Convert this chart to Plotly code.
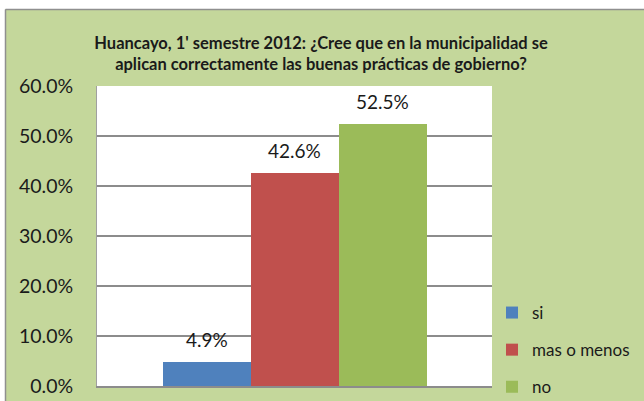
import plotly.graph_objects as go

# Survey answers (share of respondents)
respuestas = ["si", "mas o menos", "no"]
porcentajes = [0.049, 0.426, 0.525]
colores = ["#4F81BD", "#C0504D", "#9BBB59"]
y_ticks = [0.0, 0.1, 0.2, 0.3, 0.4, 0.5, 0.6]

W, H = 644, 401
L, R, T, B = 97, 152, 86, 15
FONT = "Lato, 'Open Sans', Arial, sans-serif"

fig = go.Figure()

for name, val, col in zip(respuestas, porcentajes, colores):
    fig.add_trace(
        go.Bar(
            x=[name],
            y=[val],
            name=name,
            legendgroup=name,
            marker=dict(color=col, line=dict(width=0)),
        )
    )
    fig.add_annotation(
        x=name, y=val, text=f"{val * 100:.1f}%", showarrow=False,
        yanchor="bottom", yshift=9,
        font=dict(size=19, color="#1a1a1a", family=FONT),
    )

# panel frame: white strips at top/left with grey border like the Excel chart area
pw, ph = W - L - R, H - T - B


def px_x(p):
    return (p - L) / pw


def px_y(p):
    return (H - B - p) / ph


shapes = [
    dict(type="rect", xref="paper", yref="paper", x0=px_x(-5), x1=px_x(W + 5),
         y0=px_y(9), y1=px_y(-5), fillcolor="white", line=dict(width=0), layer="below"),
    dict(type="rect", xref="paper", yref="paper", x0=px_x(-5), x1=px_x(5),
         y0=px_y(H + 5), y1=px_y(-5), fillcolor="white", line=dict(width=0), layer="below"),
    dict(type="line", xref="paper", yref="paper", x0=px_x(5.5), x1=px_x(W + 5),
         y0=px_y(9.5), y1=px_y(9.5), line=dict(color="#8f8f8f", width=1.5), layer="below"),
    dict(type="line", xref="paper", yref="paper", x0=px_x(5.5), x1=px_x(5.5),
         y0=px_y(9.5), y1=px_y(H + 5), line=dict(color="#8f8f8f", width=1.5), layer="below"),
]

# bars are 88px wide and touch each other; the plot is 395px wide
half_span = pw / 88 / 2

fig.update_layout(
    width=W,
    height=H,
    margin=dict(l=L, r=R, t=T, b=B, pad=0, autoexpand=False),
    paper_bgcolor="#C4D79B",
    plot_bgcolor="white",
    font=dict(family=FONT, color="#1a1a1a"),
    barmode="overlay",
    bargap=0,
    title=dict(
        text="Huancayo, 1' semestre 2012: ¿Cree que en la municipalidad se<br>"
        "aplican correctamente las buenas prácticas de gobierno?",
        x=321 / W,
        xanchor="center",
        y=1 - 49 / H,
        yanchor="top",
        font=dict(size=16.5, family=FONT, weight="bold", color="#1a1a1a"),
    ),
    xaxis=dict(showticklabels=False, showgrid=False, zeroline=False,
               range=[1 - half_span, 1 + half_span],
               showline=True, linecolor="#8c8c8c", linewidth=2, fixedrange=True),
    yaxis=dict(
        range=[0, 0.6],
        tickvals=y_ticks,
        tickformat=".1%",
        showgrid=True,
        gridcolor="#8c8c8c",
        gridwidth=2,
        zeroline=False,
        showline=True,
        linecolor="#a0a0a0",
        linewidth=1,
        ticks="",
        ticklabelstandoff=19,
        tickfont=dict(size=19.5, family=FONT, color="#1a1a1a"),
    ),
    legend=dict(
        x=px_x(492),
        xanchor="left",
        y=px_y(295),
        yanchor="top",
        font=dict(size=17, family=FONT, color="#1a1a1a"),
        bgcolor="rgba(0,0,0,0)",
        tracegroupgap=12,
        traceorder="grouped",
    ),
    shapes=shapes,
    showlegend=True,
)

fig.write_html(
    "out.html",
    config={"displayModeBar": False},
    post_script="document.body.style.margin='0';",
)
